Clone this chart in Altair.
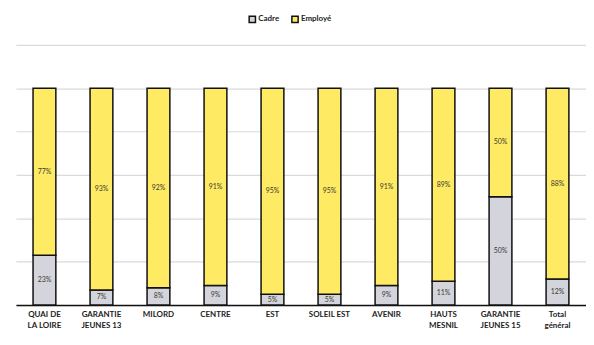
import altair as alt
import pandas as pd

sites = ["QUAI DE\nLA LOIRE", "GARANTIE\nJEUNES 13", "MILORD", "CENTRE", "EST",
         "SOLEIL EST", "AVENIR", "HAUTS\nMESNIL", "GARANTIE\nJEUNES 15", "Total\ngénéral"]
cadre = [23, 7, 8, 9, 5, 5, 9, 11, 50, 12]
employe = [77, 93, 92, 91, 95, 95, 91, 89, 50, 88]
categories = ["Cadre", "Employé"]
colors = ["#D4D4DC", "#FFEA63"]
grid_values = [0, 20, 40, 60, 80, 100, 120]

rows = []
for s, c, e in zip(sites, cadre, employe):
    rows.append({"site": s, "cat": "Cadre", "order": 0, "value": c})
    rows.append({"site": s, "cat": "Employé", "order": 1, "value": e})
df = pd.DataFrame(rows)

FONT = "Lato"

base = alt.Chart(df).transform_stack(
    stack="value", groupby=["site"], as_=["y0", "y1"],
    sort=[alt.SortField("order", "ascending")]
).transform_calculate(
    mid="(datum.y0 + datum.y1) / 2",
    lbl="datum.value + '%'"
)

xenc = alt.X("site:N", sort=sites, title=None,
             scale=alt.Scale(paddingInner=0.6, paddingOuter=0.3),
             axis=alt.Axis(labelAngle=0, ticks=False, domainColor="#111111", domainWidth=1.5,
                           labelFont=FONT, labelFontSize=8, labelFontWeight="bold",
                           labelColor="#222222", labelPadding=6, labelLineHeight=11,
                           labelBaseline="top", labelExpr="split(datum.label, '\\n')"))

bars = base.mark_bar(stroke="#111111", strokeWidth=1.5).encode(
    x=xenc,
    y=alt.Y("y0:Q", title=None, scale=alt.Scale(domain=[0, 120], nice=False),
            axis=alt.Axis(values=grid_values, labels=False, ticks=False, domain=False,
                          grid=True, gridColor="#dadada", gridWidth=1.2)),
    y2="y1:Q",
    color=alt.Color("cat:N", title=None,
                    scale=alt.Scale(domain=categories, range=colors),
                    legend=alt.Legend(orient="none", legendX=234, legendY=-30,
                                      direction="horizontal", symbolType="square",
                                      symbolStrokeColor="#111111", symbolStrokeWidth=1.5,
                                      symbolSize=40, labelFont=FONT, labelFontSize=8,
                                      labelFontWeight="bold", labelColor="#222222",
                                      columnPadding=8, labelOffset=2, padding=0)),
)

texts = base.mark_text(font=FONT, fontSize=7, color="#3a3a30").encode(
    x=alt.X("site:N", sort=sites),
    y=alt.Y("mid:Q"),
    text="lbl:N",
)

chart = alt.layer(bars, texts).properties(
    width=574, height=262,
    padding={"left": 8, "top": 6, "right": 0, "bottom": 0},
).configure_view(stroke=None)

chart.save("out.html", embed_options={"renderer": "svg", "actions": False})
